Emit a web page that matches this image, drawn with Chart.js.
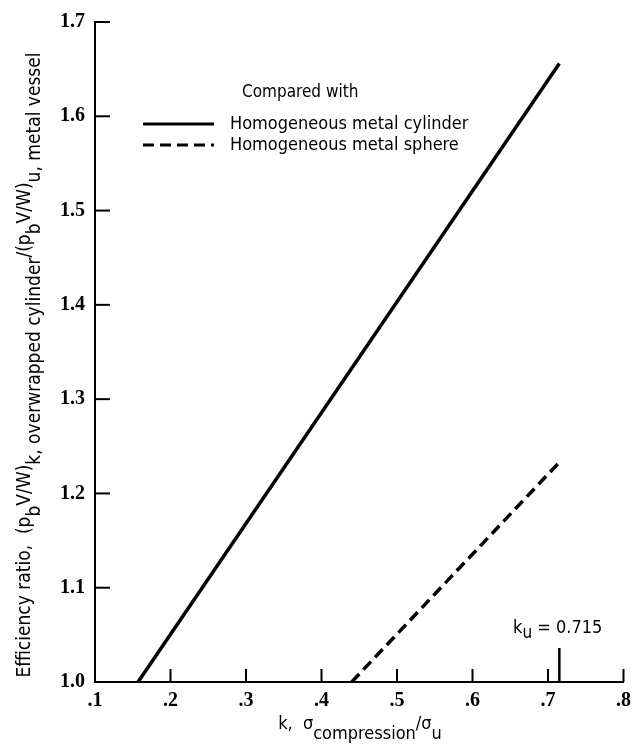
<!DOCTYPE html>
<html>
<head>
<meta charset="utf-8">
<script src="https://cdn.jsdelivr.net/npm/chart.js@4.4.1/dist/chart.umd.min.js"></script>
<style>
  html, body { margin: 0; padding: 0; background: #fff; }
  #wrap { width: 638px; height: 750px; position: relative; }
</style>
</head>
<body>
<div id="wrap"><canvas id="c" width="638" height="750"></canvas></div>
<script>
// ---- data ----
const xTickValues = [0.1, 0.2, 0.3, 0.4, 0.5, 0.6, 0.7, 0.8];
const xTickLabels = ['.1', '.2', '.3', '.4', '.5', '.6', '.7', '.8'];
const yTickLabels = ['1.0', '1.1', '1.2', '1.3', '1.4', '1.5', '1.6', '1.7'];

const cylinderK = [0.157, 0.715];
const cylinderRatio = [1.0, 1.656];

const sphereK = [0.44, 0.715];
const sphereRatio = [1.0, 1.233];

const kuK = [0.715, 0.715];
const kuMarker = [1.0, 1.036];
const kuText = '0.715';

const legendTitle = 'Compared with';
const seriesNames = ['Homogeneous metal cylinder', 'Homogeneous metal sphere'];

// ---- helpers ----
const NARROW = "'Liberation Sans Narrow', 'DejaVu Sans Condensed', 'Roboto Condensed', 'Liberation Sans', sans-serif";
const TICKFONT = "'Liberation Serif', 'DejaVu Serif', serif";

function toPoints(xs, ys) { return xs.map((x, i) => ({ x: x, y: ys[i] })); }

function drawRich(ctx, parts, x, y, align, size, subSize, subDrop) {
  let total = 0;
  parts.forEach(p => {
    ctx.font = (p.sub ? subSize : size) + 'px ' + NARROW;
    p.w = ctx.measureText(p.t).width;
    total += p.w;
  });
  let cx = align === 'center' ? x - total / 2 : (align === 'right' ? x - total : x);
  ctx.textAlign = 'left';
  ctx.textBaseline = 'alphabetic';
  parts.forEach(p => {
    ctx.font = (p.sub ? subSize : size) + 'px ' + NARROW;
    ctx.fillText(p.t, cx, y + (p.sub ? subDrop : 0));
    cx += p.w;
  });
}

const decor = {
  id: 'decor',
  afterDraw(chart) {
    const ctx = chart.ctx;
    const xs = chart.scales.x, ys = chart.scales.y;
    const area = chart.chartArea;
    ctx.save();
    ctx.strokeStyle = '#000';
    ctx.fillStyle = '#000';
    // inward tick marks
    ctx.lineWidth = 2;
    xs.ticks.forEach(t => {
      const px = xs.getPixelForValue(t.value);
      ctx.beginPath(); ctx.moveTo(px, area.bottom); ctx.lineTo(px, area.bottom - 13); ctx.stroke();
    });
    ys.ticks.forEach(t => {
      const py = ys.getPixelForValue(t.value);
      ctx.beginPath(); ctx.moveTo(area.left, py); ctx.lineTo(area.left + 15, py); ctx.stroke();
    });

    // legend
    ctx.textAlign = 'left';
    ctx.textBaseline = 'middle';
    ctx.font = '17px ' + NARROW;
    ctx.fillText(legendTitle, 242, 93);
    ctx.font = '18px ' + NARROW;
    const ds = chart.data.datasets;
    [0, 1].forEach(i => {
      const y = 124 + i * 21;
      ctx.lineWidth = 3.2;
      ctx.setLineDash(ds[i].borderDash || []);
      ctx.beginPath(); ctx.moveTo(143, y); ctx.lineTo(214, y); ctx.stroke();
      ctx.setLineDash([]);
      ctx.fillText(seriesNames[i], 230, y);
    });

    // k_u annotation
    const kx = xs.getPixelForValue(kuK[0]);
    drawRich(ctx, [{ t: 'k' }, { t: 'u', sub: true }, { t: ' = ' + kuText }], kx + 43, 633, 'right', 18, 17, 5);

    // x title
    drawRich(ctx, [{ t: 'k,  \u03c3' }, { t: 'compression', sub: true }, { t: '/\u03c3' }, { t: 'u', sub: true }],
      360, 729, 'center', 18, 18, 10);

    // y title (rotated)
    ctx.translate(30, 365);
    ctx.rotate(-Math.PI / 2);
    drawRich(ctx, [
      { t: 'Efficiency ratio,  (p' }, { t: 'b', sub: true }, { t: 'V/W)' },
      { t: 'k, overwrapped cylinder', sub: true }, { t: '/(p' }, { t: 'b', sub: true },
      { t: 'V/W)' }, { t: 'u, metal vessel', sub: true }
    ], 0, 0, 'center', 19, 19, 10);
    ctx.restore();
  }
};

new Chart(document.getElementById('c'), {
  type: 'scatter',
  data: {
    datasets: [
      { label: seriesNames[0], data: toPoints(cylinderK, cylinderRatio), showLine: true, borderColor: '#000', borderWidth: 3.5, pointRadius: 0, fill: false },
      { label: seriesNames[1], data: toPoints(sphereK, sphereRatio), showLine: true, borderColor: '#000', borderWidth: 3.5, borderDash: [11, 6], pointRadius: 0, fill: false },
      { label: 'ku', data: toPoints(kuK, kuMarker), showLine: true, borderColor: '#000', borderWidth: 2.5, pointRadius: 0, fill: false }
    ]
  },
  options: {
    responsive: false,
    animation: false,
    devicePixelRatio: 1,
    layout: { padding: { left: 0, right: 11, top: 18, bottom: 0 } },
    plugins: { legend: { display: false }, tooltip: { enabled: false } },
    scales: {
      x: {
        type: 'linear', min: 0.1, max: 0.8,
        afterBuildTicks: s => { s.ticks = xTickValues.map(v => ({ value: v })); },
        afterFit: s => { s.height = 68; },
        ticks: { callback: (v, i) => xTickLabels[i], color: '#000', padding: 7, maxRotation: 0, autoSkip: false,
                 font: { family: TICKFONT, size: 20, weight: 'bold' } },
        grid: { display: false, drawTicks: false },
        border: { display: true, color: '#000', width: 2 }
      },
      y: {
        type: 'linear', min: 1.0, max: 1.7,
        afterBuildTicks: s => { s.ticks = yTickLabels.map(l => ({ value: parseFloat(l) })); },
        afterFit: s => { s.width = 95; },
        ticks: { callback: (v, i) => yTickLabels[i], color: '#000', padding: 10, autoSkip: false,
                 font: { family: TICKFONT, size: 20, weight: 'bold' } },
        grid: { display: false, drawTicks: false },
        border: { display: true, color: '#000', width: 2 }
      }
    }
  },
  plugins: [decor]
});
</script>
</body>
</html>
